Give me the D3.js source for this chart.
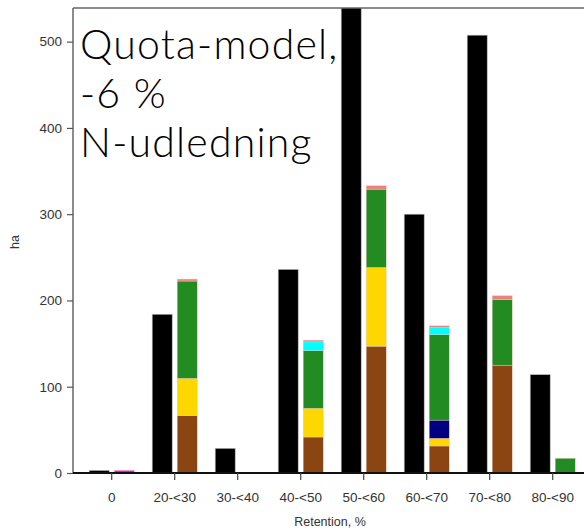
<!DOCTYPE html>
<html>
<head>
<meta charset="utf-8">
<script src="https://cdn.jsdelivr.net/npm/d3@7/dist/d3.min.js"></script>
<style>
  html, body { margin: 0; padding: 0; background: #fff; }
  svg { display: block; }
</style>
</head>
<body>
<svg id="chart" width="584" height="530"></svg>
<script>
// Retention classes on the x axis
const categories = ["0", "20-<30", "30-<40", "40-<50", "50-<60", "60-<70", "70-<80", "80-<90"];

// Total area per retention class (black bars)
const totalHa = [3, 184, 28.6, 236, 590, 300, 507.5, 114];

// Stacked components per retention class (bottom to top)
const brown   = [0, 66.4, 0, 41.7, 147, 31.3, 125, 0];
const yellow  = [0, 43.3, 0, 33.3, 91.3, 8.9, 0, 0];
const navy    = [0, 0, 0, 0, 0, 21.1, 0, 0];
const green   = [0, 112.8, 0, 66.7, 90.7, 99, 76, 17];
const cyan    = [0, 0, 0, 10.3, 0, 8.4, 0, 0];
const salmon  = [0, 2.3, 0, 2, 4, 1.9, 4.5, 0];
const magenta = [3, 0, 0, 0, 0, 0, 0, 0];

const yTicks = [0, 100, 200, 300, 400, 500];
const titleLines = ["Quota-model,", "-6 %", "N-udledning"];

const seriesKeys = ["brown", "yellow", "navy", "green", "cyan", "salmon", "magenta"];
const seriesColors = {
  brown: "#8B4513", yellow: "#FFD700", navy: "#000080", green: "#228B22",
  cyan: "#00FFFF", salmon: "#F08080", magenta: "#FF00FF"
};
const seriesValues = { brown, yellow, navy, green, cyan, salmon, magenta };

const rows = categories.map((c, i) => {
  const r = { cat: c };
  seriesKeys.forEach(k => r[k] = seriesValues[k][i]);
  return r;
});

const svg = d3.select("#chart");
const plotLeft = 73, plotTop = 8, plotBottom = 473, plotRight = 584;

const x = d3.scaleBand().domain(categories).range([80.2, 584.2]).padding(0);
const y = d3.scaleLinear().domain([0, 539]).range([plotBottom, plotTop]);
const barW = 20, gap = 2.5;

svg.append("defs").append("clipPath").attr("id", "plotClip")
  .append("rect").attr("x", plotLeft).attr("y", plotTop)
  .attr("width", plotRight - plotLeft).attr("height", plotBottom - plotTop);

const plot = svg.append("g").attr("clip-path", "url(#plotClip)");

// Black total bars
plot.selectAll("rect.total").data(categories).join("rect")
  .attr("class", "total")
  .attr("x", d => x(d) + x.bandwidth() / 2 - gap - barW)
  .attr("width", barW)
  .attr("y", (d, i) => y(totalHa[i]))
  .attr("height", (d, i) => y(0) - y(totalHa[i]))
  .attr("fill", "#000")
  .attr("stroke", "#bbb").attr("stroke-width", 0.6);

// Stacked component bars
const stacked = d3.stack().keys(seriesKeys)(rows);
plot.selectAll("g.layer").data(stacked).join("g")
  .attr("class", "layer")
  .attr("fill", d => seriesColors[d.key])
  .selectAll("rect").data(d => d.filter(s => s[1] - s[0] > 0)).join("rect")
  .attr("x", d => x(d.data.cat) + x.bandwidth() / 2 + gap)
  .attr("width", barW)
  .attr("y", d => y(d[1]))
  .attr("height", d => y(d[0]) - y(d[1]))
  .attr("stroke", "#e8c8b8").attr("stroke-width", 0.4);

// Frame: top line and left axis
svg.append("line").attr("x1", plotLeft).attr("x2", plotRight).attr("y1", plotTop).attr("y2", plotTop)
  .attr("stroke", "#666").attr("stroke-width", 1.5);

const yAxis = d3.axisLeft(y).tickValues(yTicks).tickSize(6).tickPadding(5);
const gy = svg.append("g").attr("transform", `translate(${plotLeft},0)`).call(yAxis);
gy.select(".domain").attr("stroke", "#666").attr("stroke-width", 1.5)
  .attr("d", `M0,${plotTop}V${plotBottom}`);
gy.selectAll(".tick line").attr("stroke", "#555").attr("stroke-width", 1.2);
gy.selectAll(".tick text").attr("font-family", "Liberation Sans, Arial, sans-serif")
  .attr("font-size", 13.5).attr("fill", "#333");

const xAxis = d3.axisBottom(x).tickSize(7).tickPadding(12);
const gx = svg.append("g").attr("transform", `translate(0,${plotBottom})`).call(xAxis);
gx.select(".domain").attr("stroke", "#111").attr("stroke-width", 2)
  .attr("d", `M${plotLeft},0H${plotRight}`);
gx.selectAll(".tick line").attr("stroke", "#444").attr("stroke-width", 1.2);
gx.selectAll(".tick text").attr("font-family", "Liberation Sans, Arial, sans-serif")
  .attr("font-size", 13.5).attr("fill", "#333");

// Axis titles
svg.append("text").attr("x", 330).attr("y", 526).attr("text-anchor", "middle")
  .attr("font-family", "Liberation Sans, Arial, sans-serif").attr("font-size", 12.5).attr("fill", "#333")
  .text("Retention, %");
svg.append("text").attr("transform", "translate(19,242) rotate(-90)").attr("text-anchor", "middle")
  .attr("font-family", "Liberation Sans, Arial, sans-serif").attr("font-size", 12.5).attr("fill", "#333")
  .text("ha");

// Panel title
svg.append("g").selectAll("text").data(titleLines).join("text")
  .attr("x", 80).attr("y", (d, i) => 59 + i * 49)
  .attr("font-family", "Lato, 'Noto Sans', sans-serif").attr("font-weight", 300)
  .attr("font-size", 41).attr("letter-spacing", 1.2).attr("fill", "#000")
  .text(d => d);
</script>
</body>
</html>
